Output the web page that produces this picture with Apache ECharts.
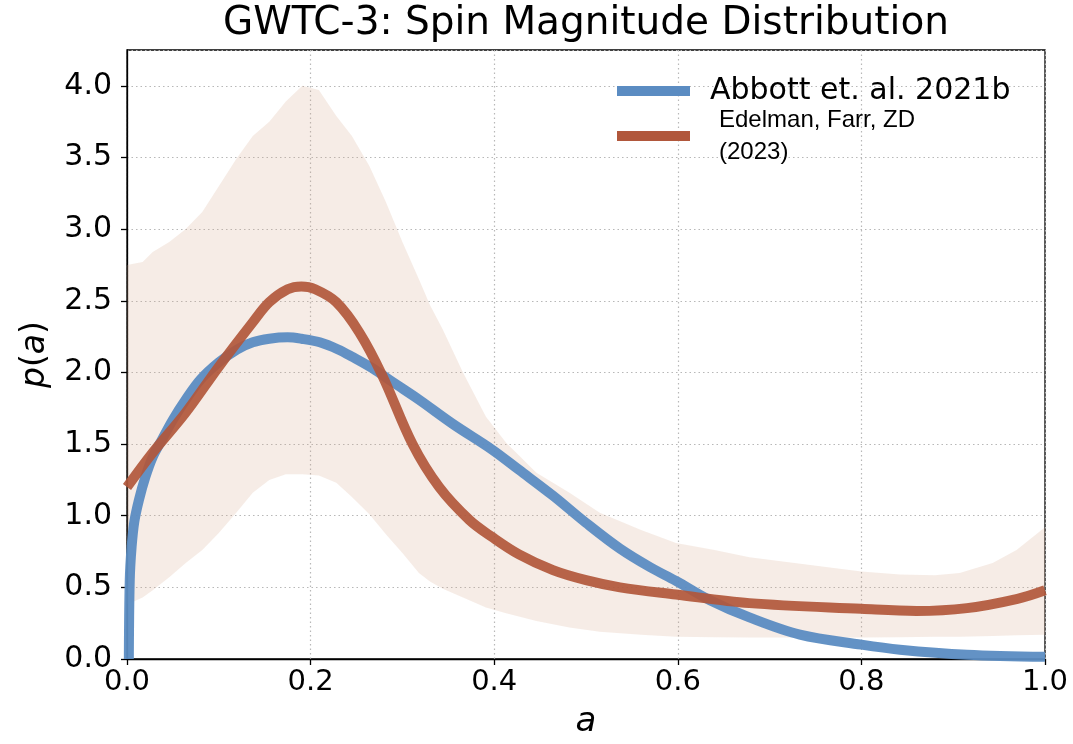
<!DOCTYPE html>
<html>
<head>
<meta charset="utf-8">
<title>GWTC-3: Spin Magnitude Distribution</title>
<script src="https://cdn.jsdelivr.net/npm/echarts@6/dist/echarts.min.js"></script>
<style>
  html, body { margin: 0; padding: 0; background: #ffffff; }
  #chart { width: 1073px; height: 744px; }
</style>
</head>
<body>
<div id="chart"></div>
<script>
// Spin magnitude a and population density p(a)
const xTicks = [0.0, 0.2, 0.4, 0.6, 0.8, 1.0];
const yTicks = [0.0, 0.5, 1.0, 1.5, 2.0, 2.5, 3.0, 3.5, 4.0];

// Abbott et al. 2021b (GWTC-3 default spin model)
const abbottA = [0.002, 0.003, 0.005, 0.008, 0.013, 0.02, 0.028, 0.038, 0.05, 0.064, 0.08, 0.10, 0.12, 0.137, 0.155, 0.175, 0.19, 0.21, 0.23, 0.245, 0.267, 0.29, 0.318, 0.355, 0.398, 0.427, 0.464, 0.50, 0.537, 0.57, 0.598, 0.635, 0.678, 0.733, 0.80, 0.842, 0.915, 1.0];
const abbottP = [0.0, 0.55, 0.78, 0.96, 1.11, 1.27, 1.41, 1.53, 1.67, 1.81, 1.95, 2.07, 2.16, 2.21, 2.235, 2.245, 2.235, 2.21, 2.16, 2.11, 2.03, 1.93, 1.81, 1.64, 1.46, 1.32, 1.14, 0.95, 0.77, 0.64, 0.545, 0.41, 0.29, 0.17, 0.10, 0.065, 0.03, 0.015];

// Edelman, Farr, ZD (2023) median
const edelmanA = [0.0, 0.028, 0.064, 0.10, 0.137, 0.155, 0.175, 0.19, 0.205, 0.228, 0.253, 0.278, 0.311, 0.340, 0.373, 0.398, 0.427, 0.464, 0.50, 0.537, 0.598, 0.678, 0.80, 0.86, 0.915, 0.97, 1.0];
const edelmanP = [1.20, 1.44, 1.72, 2.04, 2.35, 2.49, 2.58, 2.60, 2.58, 2.49, 2.28, 1.98, 1.50, 1.20, 0.97, 0.85, 0.73, 0.62, 0.55, 0.50, 0.45, 0.39, 0.35, 0.335, 0.355, 0.42, 0.48];

// Edelman, Farr, ZD (2023) credible band
const bandA  = [0.0, 0.017, 0.028, 0.046, 0.064, 0.082, 0.10, 0.119, 0.137, 0.155, 0.173, 0.191, 0.209, 0.228, 0.245, 0.264, 0.282, 0.30, 0.318, 0.33, 0.344, 0.366, 0.391, 0.413, 0.446, 0.482, 0.515, 0.56, 0.598, 0.64, 0.678, 0.74, 0.80, 0.842, 0.88, 0.907, 0.943, 0.969, 1.0];
const bandHi = [2.75, 2.77, 2.84, 2.91, 3.00, 3.12, 3.30, 3.49, 3.65, 3.75, 3.89, 4.00, 3.97, 3.79, 3.65, 3.44, 3.19, 2.91, 2.65, 2.47, 2.30, 2.00, 1.69, 1.51, 1.30, 1.16, 1.02, 0.90, 0.81, 0.76, 0.71, 0.66, 0.61, 0.59, 0.585, 0.60, 0.67, 0.76, 0.92];
const bandLo = [0.38, 0.43, 0.48, 0.57, 0.67, 0.76, 0.88, 1.02, 1.16, 1.25, 1.29, 1.29, 1.28, 1.23, 1.13, 1.01, 0.87, 0.74, 0.60, 0.54, 0.49, 0.43, 0.36, 0.32, 0.265, 0.22, 0.19, 0.17, 0.155, 0.152, 0.15, 0.15, 0.15, 0.152, 0.155, 0.155, 0.16, 0.165, 0.17];

const seriesNames = ['Abbott et. al. 2021b', 'Edelman, Farr, ZD\n(2023)'];

const zip = (xs, ys) => xs.map((x, i) => [x, ys[i]]);

const chart = echarts.init(document.getElementById('chart'), null, { renderer: 'canvas' });

const gridLine = { show: true, lineStyle: { color: '#b8b8b8', width: 1.2, type: [1.5, 3] } };

chart.setOption({
  animation: false,
  backgroundColor: '#ffffff',
  title: {
    text: 'GWTC-3: Spin Magnitude Distribution',
    left: 586,
    top: 3,
    padding: 0,
    textAlign: 'center',
    textStyle: { fontFamily: 'DejaVu Sans', fontSize: 39, fontWeight: 'normal', color: '#000', lineHeight: 42 }
  },
  legend: [
    {
      data: [seriesNames[0]],
      left: 617, top: 74, padding: 0,
      orient: 'vertical',
      icon: 'rect', itemWidth: 73, itemHeight: 10,
      selectedMode: false,
      textStyle: { fontFamily: 'DejaVu Sans', fontSize: 30, color: '#000', lineHeight: 34, padding: [0, 0, 0, 15] }
    },
    {
      data: [seriesNames[1]],
      left: 617, top: 104, padding: 0,
      orient: 'vertical',
      icon: 'rect', itemWidth: 73, itemHeight: 10,
      selectedMode: false,
      textStyle: { fontFamily: 'Liberation Sans', fontSize: 24, color: '#000', lineHeight: 32, padding: [0, 0, 0, 24] }
    }
  ],
  grid: {
    left: 127, right: 28, top: 50, bottom: 85,
    outerBoundsMode: 'none',
    containLabel: false,
    show: true, borderColor: '#000', borderWidth: 1.3, backgroundColor: 'transparent'
  },
  xAxis: {
    type: 'value', min: 0, max: 1, interval: 0.2,
    name: 'a', nameLocation: 'middle', nameGap: 46,
    nameTextStyle: { fontFamily: 'DejaVu Sans', fontStyle: 'italic', fontSize: 34, color: '#000', lineHeight: 34 },
    axisLine: { show: true, lineStyle: { color: '#000', width: 1.3 } },
    axisTick: { show: true, length: 6, lineStyle: { color: '#000', width: 1.3 } },
    axisLabel: {
      fontFamily: 'DejaVu Sans', fontSize: 29, color: '#000', margin: 9,
      formatter: v => xTicks.some(t => Math.abs(t - v) < 1e-9) ? v.toFixed(1) : ''
    },
    splitLine: gridLine
  },
  yAxis: {
    type: 'value', min: 0, max: 4.25, interval: 0.5,
    name: '{i|p}({i|a})', nameLocation: 'middle', nameGap: 66, nameRotate: 90,
    nameTextStyle: {
      fontFamily: 'DejaVu Sans', fontSize: 33, color: '#000', lineHeight: 36,
      rich: {
        i: { fontFamily: 'DejaVu Sans', fontStyle: 'italic', fontSize: 33, color: '#000' }
      }
    },
    axisLine: { show: true, lineStyle: { color: '#000', width: 1.3 } },
    axisTick: { show: true, length: 6, lineStyle: { color: '#000', width: 1.3 } },
    axisLabel: {
      fontFamily: 'DejaVu Sans', fontSize: 30, color: '#000', margin: 15,
      showMaxLabel: false,
      formatter: v => yTicks.some(t => Math.abs(t - v) < 1e-9) ? v.toFixed(1) : ''
    },
    splitLine: gridLine
  },
  series: [
    {
      name: 'band',
      type: 'custom',
      coordinateSystem: 'cartesian2d',
      clip: true,
      silent: true,
      z: 1,
      data: [[0, 0]],
      renderItem: (params, api) => {
        const pts = [];
        for (let i = 0; i < bandA.length; i++) pts.push(api.coord([bandA[i], bandHi[i]]));
        for (let i = bandA.length - 1; i >= 0; i--) pts.push(api.coord([bandA[i], bandLo[i]]));
        return {
          type: 'polygon',
          shape: { points: pts, smooth: 0 },
          style: { fill: 'rgba(215,170,140,0.22)', stroke: null }
        };
      }
    },
    {
      name: seriesNames[0],
      type: 'line',
      data: zip(abbottA, abbottP),
      smooth: 0.35,
      showSymbol: false,
      symbol: 'none',
      z: 3,
      color: '#5B8CC2',
      lineStyle: { color: '#5B8CC2', width: 10, opacity: 0.95 }
    },
    {
      name: seriesNames[1],
      type: 'line',
      data: zip(edelmanA, edelmanP),
      smooth: 0.35,
      showSymbol: false,
      symbol: 'none',
      z: 4,
      color: '#B1573B',
      lineStyle: { color: '#B1573B', width: 10, opacity: 0.92 }
    }
  ]
});
</script>
</body>
</html>
